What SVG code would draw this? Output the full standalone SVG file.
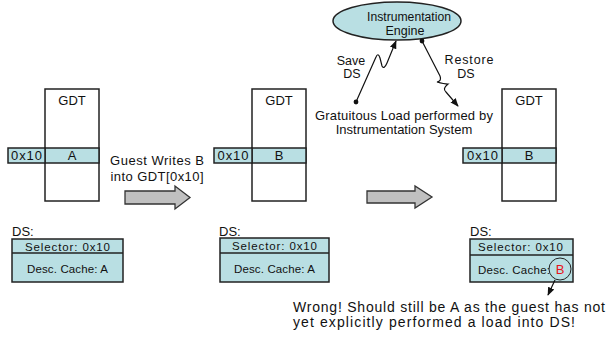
<svg xmlns="http://www.w3.org/2000/svg" width="613" height="337" viewBox="0 0 613 337">
  <defs>
    <style>
      text { font-family: "Liberation Sans", Arial, sans-serif; fill: #111; }
      .gdt { fill: #fff; stroke: #222; stroke-width: 1.5; }
      .cell { fill: #b9dfe3; stroke: #222; stroke-width: 1.5; }
      .t13 { font-size: 13px; }
      .t12 { font-size: 12.5px; }
      .t11 { font-size: 11.5px; }
      .t14 { font-size: 14px; }
      .mid { text-anchor: middle; }
      .bigarrow { fill: #c0c0c0; stroke: #333; stroke-width: 1.3; }
      .wire { fill: none; stroke: #111; stroke-width: 1.2; }
    </style>
    <marker id="tip" viewBox="0 0 10 10" refX="9" refY="5" markerWidth="7" markerHeight="7" orient="auto">
      <path d="M0,1 L10,5 L0,9 Z" fill="#111"/>
    </marker>
    <marker id="dot" viewBox="0 0 10 10" refX="5" refY="5" markerWidth="5" markerHeight="5">
      <circle cx="5" cy="5" r="4" fill="#111"/>
    </marker>
  </defs>

  <!-- Step 1: original GDT and DS -->
  <g id="gdt1">
    <rect class="gdt" x="45" y="89" width="54" height="112"/>
    <text class="t13 mid" x="72" y="105">GDT</text>
    <rect class="cell" x="45" y="148" width="54" height="15"/>
    <text class="t13 mid" x="72" y="160">A</text>
    <rect class="cell" x="8" y="148" width="37" height="15"/>
    <text class="t13 mid" x="26.5" y="160" textLength="31" lengthAdjust="spacing">0x10</text>
  </g>
  <g id="ds1">
    <text class="t13" x="12" y="236">DS:</text>
    <rect class="cell" x="12" y="239" width="111" height="43"/>
    <line x1="12" y1="253" x2="123" y2="253" stroke="#222" stroke-width="1.5"/>
    <text class="t11 mid" x="67.5" y="251" textLength="85" lengthAdjust="spacing">Selector: 0x10</text>
    <text class="t11 mid" x="67.5" y="273" textLength="81" lengthAdjust="spacing">Desc. Cache: A</text>
  </g>

  <!-- Step 2: guest has written B into the GDT entry -->
  <g id="gdt2">
    <rect class="gdt" x="252" y="89" width="54" height="112"/>
    <text class="t13 mid" x="279" y="105">GDT</text>
    <rect class="cell" x="252" y="148" width="54" height="15"/>
    <text class="t13 mid" x="279" y="160">B</text>
    <rect class="cell" x="214" y="148" width="38" height="15"/>
    <text class="t13 mid" x="233" y="160" textLength="31" lengthAdjust="spacing">0x10</text>
  </g>
  <g id="ds2">
    <text class="t13" x="219" y="236">DS:</text>
    <rect class="cell" x="220" y="238" width="109" height="44"/>
    <line x1="220" y1="253" x2="329" y2="253" stroke="#222" stroke-width="1.5"/>
    <text class="t11 mid" x="274.5" y="250" textLength="85" lengthAdjust="spacing">Selector: 0x10</text>
    <text class="t11 mid" x="274.5" y="273" textLength="81" lengthAdjust="spacing">Desc. Cache: A</text>
  </g>

  <!-- Step 3: after the gratuitous load -->
  <g id="gdt3">
    <rect class="gdt" x="502" y="89" width="54" height="112"/>
    <text class="t13 mid" x="529" y="105">GDT</text>
    <rect class="cell" x="502" y="148" width="54" height="15"/>
    <text class="t13 mid" x="529" y="160">B</text>
    <rect class="cell" x="463" y="148" width="39" height="15"/>
    <text class="t13 mid" x="482.5" y="160" textLength="31" lengthAdjust="spacing">0x10</text>
  </g>
  <g id="ds3">
    <text class="t13" x="470" y="236">DS:</text>
    <rect class="cell" x="470" y="239" width="103" height="43"/>
    <line x1="470" y1="255" x2="573" y2="255" stroke="#222" stroke-width="1.5"/>
    <text class="t11 mid" x="520.5" y="251" textLength="85" lengthAdjust="spacing">Selector: 0x10</text>
    <text class="t11" x="478" y="274" textLength="72" lengthAdjust="spacing">Desc. Cache:</text>
    <circle cx="560" cy="269" r="11" fill="none" stroke="#222" stroke-width="1"/>
    <text class="t13 mid" x="560" y="274" style="fill:#e8141c">B</text>
  </g>

  <!-- Instrumentation engine -->
  <g id="engine">
    <ellipse cx="397" cy="21" rx="64" ry="19" fill="#b9dfe3" stroke="#222" stroke-width="1.5"/>
    <text class="t12 mid" x="409" y="21" textLength="84" lengthAdjust="spacingAndGlyphs">Instrumentation</text>
    <text class="t12 mid" x="405" y="35">Engine</text>
  </g>

  <g id="note-load">
    <text class="t13 mid" x="404" y="120" textLength="178" lengthAdjust="spacing">Gratuitous Load performed by</text>
    <text class="t13 mid" x="404" y="134">Instrumentation System</text>
  </g>

  <g id="note-wrong">
    <text class="t14" x="293" y="312" textLength="312" lengthAdjust="spacing">Wrong! Should still be A as the guest has not</text>
    <text class="t14" x="293" y="327" textLength="282" lengthAdjust="spacing">yet explicitly performed a load into DS!</text>
  </g>

  <!-- Connectors -->
  <g id="connectors">
    <path class="bigarrow" d="M125,191 H175 V186 L190,197.5 L175,209 V204 H125 Z"/>
    <text class="t13 mid" x="157" y="165" textLength="94" lengthAdjust="spacing">Guest Writes B</text>
    <text class="t13 mid" x="157" y="181" textLength="93" lengthAdjust="spacing">into GDT[0x10]</text>

    <path class="bigarrow" d="M367,191 H415 V186 L432,197 L415,208 V203 H367 Z"/>

    <!-- save DS: lightning from load site up to the engine -->
    <path class="wire" d="M356,102 L376,57 Q378,52 380,58 L382,66 Q384,70 387,63 L396,41" marker-start="url(#dot)" marker-end="url(#tip)"/>
    <text class="t12 mid" x="351" y="65">Save</text>
    <text class="t12 mid" x="352" y="78">DS</text>

    <!-- restore DS: lightning from the engine back down -->
    <path class="wire" d="M422,41 L440,76 Q442,81 437,82 Q444,84 448,84 Q442,89 446,92 L458,106" marker-start="url(#dot)" marker-end="url(#tip)"/>
    <text class="t12 mid" x="469" y="64" textLength="49" lengthAdjust="spacing">Restore</text>
    <text class="t12 mid" x="466" y="78">DS</text>

    <!-- from the stale cache value to the warning -->
    <line class="wire" x1="555" y1="280" x2="548" y2="295" marker-end="url(#tip)"/>
  </g>
</svg>
